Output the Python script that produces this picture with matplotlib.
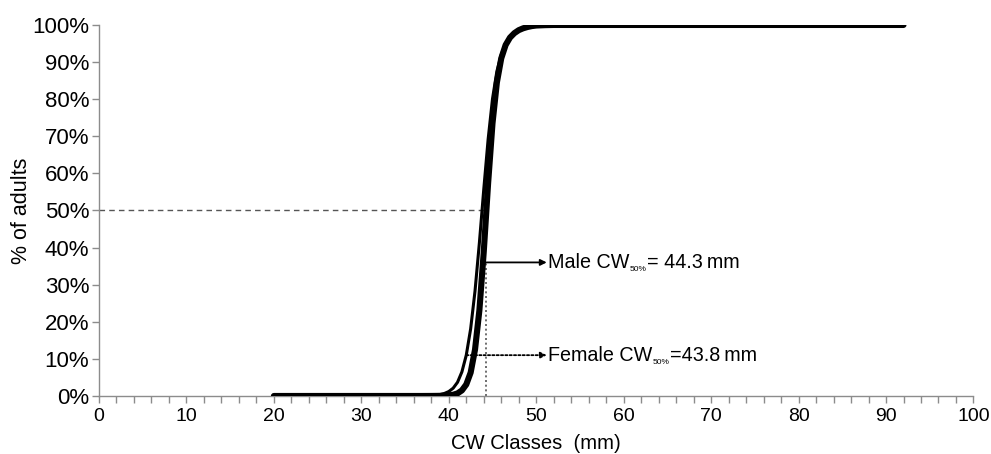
import matplotlib
matplotlib.use("Agg")
import matplotlib.pyplot as plt
from matplotlib.ticker import MultipleLocator, FuncFormatter
from matplotlib.transforms import offset_copy

plt.rcParams['font.family'] = ['Liberation Sans', 'DejaVu Sans']

# CW classes (mm), finer near the maturity transition
cw = [20, 21, 22, 23, 24, 25, 26, 27, 28, 29, 30, 31, 32, 33, 34, 35, 36, 37, 38,
      38.5, 39, 39.5, 40, 40.5, 41, 41.5, 42, 42.5, 43, 43.5, 44, 44.5, 45, 45.5,
      46, 46.5, 47, 47.5, 48, 48.5, 49, 49.5, 50, 51, 52, 53, 54, 55, 56, 57, 58,
      59, 60, 61, 62, 63, 64, 65, 66, 67, 68, 69, 70, 71, 72, 73, 74, 75, 76, 77,
      78, 79, 80, 81, 82, 83, 84, 85, 86, 87, 88, 89, 90, 91, 92]

# Proportion of adults (%) per class
male_pct = [0, 0, 0, 0, 0, 0, 0, 0, 0, 0, 0, 0, 0, 0, 0, 0, 0, 0, 0.01,
            0.02, 0.04, 0.08, 0.16, 0.33, 0.7, 1.5, 3.1, 6.3, 12.5, 23.1, 38.9,
            57.4, 73.5, 84.5, 91.0, 94.6, 96.6, 97.8, 98.6, 99.1, 99.45, 99.7,
            99.85, 99.95, 100, 100, 100, 100, 100, 100, 100, 100, 100, 100, 100,
            100, 100, 100, 100, 100, 100, 100, 100, 100, 100, 100, 100, 100, 100,
            100, 100, 100, 100, 100, 100, 100, 100, 100, 100, 100, 100, 100, 100,
            100, 100]
female_pct = [0, 0, 0, 0, 0, 0, 0, 0, 0, 0, 0, 0, 0, 0, 0, 0, 0.02, 0.05, 0.12,
              0.2, 0.38, 0.68, 1.2, 2.1, 3.7, 6.5, 11.0, 18.1, 28.3, 41.3, 55.7,
              69.2, 80.1, 87.5, 92.0, 94.9, 96.6, 97.8, 98.6, 99.1, 99.45, 99.7,
              99.85, 99.95, 100, 100, 100, 100, 100, 100, 100, 100, 100, 100, 100,
              100, 100, 100, 100, 100, 100, 100, 100, 100, 100, 100, 100, 100,
              100, 100, 100, 100, 100, 100, 100, 100, 100, 100, 100, 100, 100,
              100, 100, 100, 100]

male_cw50 = 44.3
female_cw50 = 43.8
male_arrow_y = 36
female_arrow_y = 11

fig = plt.figure(figsize=(9.91, 4.54), dpi=100)
ax = fig.add_axes([0.0999, 0.1278, 0.8824, 0.8172])

axis_gray = '#8c8c8c'

# reference lines for the 50% level and male CW50
ax.plot([0, male_cw50 - 0.1], [50, 50], color='#555555', lw=1.0,
        linestyle=(0, (4, 3)), zorder=1)
ax.plot([male_cw50, male_cw50], [0, male_arrow_y], color='#555555', lw=1.2,
        linestyle=(0, (1.2, 1.6)), zorder=1)

# maturity ogives
ax.plot(cw, male_pct, color='black', lw=4.4, solid_capstyle='round',
        solid_joinstyle='round', zorder=3)
ax.plot(cw, female_pct, color='black', lw=2.2, solid_capstyle='round',
        solid_joinstyle='round', zorder=4)

# annotation arrows
ax.annotate('', xy=(51.2, male_arrow_y), xytext=(male_cw50, male_arrow_y),
            arrowprops=dict(arrowstyle='-|>', color='black', lw=1.3,
                            mutation_scale=9, shrinkA=0, shrinkB=0), zorder=5)
ax.annotate('', xy=(51.2, female_arrow_y), xytext=(42.0, female_arrow_y),
            arrowprops=dict(arrowstyle='-|>', color='black', lw=1.3,
                            linestyle=(0, (1.2, 1.2)),
                            mutation_scale=9, shrinkA=0, shrinkB=0), zorder=5)


def cw50_label(y, head, tail):
    fs = 14.2
    x0 = 51.4
    t1 = ax.text(x0, y, head, fontsize=fs, va='center', ha='left')
    fig.canvas.draw()
    r = fig.canvas.get_renderer()
    px0 = ax.transData.transform((x0, y))[0]
    bb = t1.get_window_extent(r)
    tr = offset_copy(ax.transData, fig=fig, x=(bb.x1 - px0) * 72 / fig.dpi,
                     y=-5, units='points')
    t2 = ax.text(x0, y, '50%', fontsize=6, va='center', ha='left', transform=tr)
    fig.canvas.draw()
    bb2 = t2.get_window_extent(r)
    tr2 = offset_copy(ax.transData, fig=fig, x=(bb2.x1 - px0) * 72 / fig.dpi,
                      y=0, units='points')
    ax.text(x0, y, tail, fontsize=fs, va='center', ha='left', transform=tr2)


cw50_label(male_arrow_y, 'Male CW', '= 44.3\u2009mm')
cw50_label(female_arrow_y, 'Female CW', '=43.8\u2009mm')

ax.set_xlim(0, 100)
ax.set_ylim(0, 100)
ax.xaxis.set_major_locator(MultipleLocator(10))
ax.xaxis.set_minor_locator(MultipleLocator(2))
ax.yaxis.set_major_locator(MultipleLocator(10))
ax.yaxis.set_major_formatter(FuncFormatter(lambda v, p: f'{int(round(v))}%'))

for s in ['top', 'right']:
    ax.spines[s].set_visible(False)
for s in ['left', 'bottom']:
    ax.spines[s].set_color(axis_gray)
    ax.spines[s].set_linewidth(1.0)

ax.tick_params(axis='both', which='both', direction='out', color=axis_gray,
               length=5, width=1.0, labelcolor='black')
ax.tick_params(axis='x', pad=4, labelsize=14)
ax.tick_params(axis='y', pad=2, labelsize=16)

ax.set_xlabel('CW Classes  (mm)', fontsize=14.6, labelpad=6)
ax.set_ylabel('% of adults', fontsize=15.5, labelpad=0)

fig.savefig('out.png', dpi=100)
